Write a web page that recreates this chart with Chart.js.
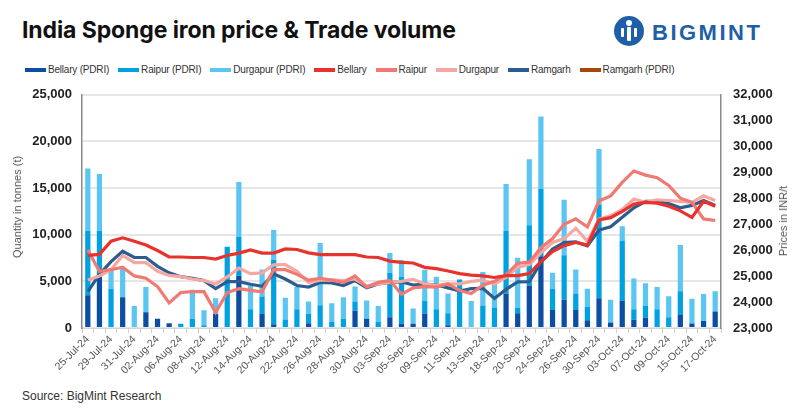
<!DOCTYPE html>
<html>
<head>
<meta charset="utf-8">
<script src="https://cdn.jsdelivr.net/npm/chart.js@4.4.1/dist/chart.umd.min.js"></script>
<style>
  body { margin: 0; background: #fff; font-family: "Liberation Sans", Arial, sans-serif; }
  #page { position: relative; width: 793px; height: 409px; overflow: hidden; }
  #title { position: absolute; left: 22px; top: 16px; font: bold 23px Inter, "Liberation Sans", sans-serif; color: #111; letter-spacing: -0.1px; }
  #logo { position: absolute; left: 612px; top: 13px; }
  #legend { position: absolute; left: 25px; top: 64px; display: flex; font: 10px "Liberation Sans", Arial, sans-serif; letter-spacing: -0.2px; color: #333; }
  #legend .item { display: flex; align-items: center; margin-right: 9px; }
  #legend .sw { width: 21px; height: 4px; margin-right: 2px; }
  #wrap { position: absolute; left: 0; top: 75px; width: 793px; height: 305px; }
  .axt { position: absolute; font-size: 11px; color: #555; white-space: nowrap; transform: translate(-50%, -50%) rotate(-90deg); }
  #source { position: absolute; left: 22px; top: 389px; font-size: 12px; color: #333; }
</style>
</head>
<body>
<div id="page">
  <div id="title">India Sponge iron price &amp; Trade volume</div>
  <svg id="logo" width="175" height="36" viewBox="0 0 175 36">
    <circle cx="17" cy="18" r="15" fill="#1f5fa8"/>
    <circle cx="17" cy="10" r="3" fill="#fff"/>
    <rect x="15" y="14" width="4" height="14" rx="1" fill="#fff"/>
    <rect x="9" y="15" width="3" height="9" rx="1" fill="#fff"/>
    <rect x="22" y="15" width="3" height="9" rx="1" fill="#fff"/>
    <text x="40" y="27" font-family="Liberation Sans, Arial" font-weight="bold" font-size="22" fill="#1f5fa8" letter-spacing="2.5">BIGMINT</text>
  </svg>
  <div id="legend"></div>
  <div id="wrap"><canvas id="chart"></canvas></div>
  <div class="axt" style="left:17px; top:207px;">Quantity in tonnes (t)</div>
  <div class="axt" style="left:783px; top:221px;">Prices in INR/t</div>
  <div id="source">Source: BigMint Research</div>
</div>
<script>
const dates = ["25-Jul-24","26-Jul-24","29-Jul-24","30-Jul-24","31-Jul-24","01-Aug-24","02-Aug-24","05-Aug-24","06-Aug-24","07-Aug-24",
  "08-Aug-24","09-Aug-24","12-Aug-24","13-Aug-24","14-Aug-24","16-Aug-24","20-Aug-24","21-Aug-24","22-Aug-24","23-Aug-24",
  "26-Aug-24","27-Aug-24","28-Aug-24","29-Aug-24","30-Aug-24","02-Sep-24","03-Sep-24","04-Sep-24","05-Sep-24","06-Sep-24",
  "09-Sep-24","10-Sep-24","11-Sep-24","12-Sep-24","13-Sep-24","17-Sep-24","18-Sep-24","19-Sep-24","20-Sep-24","23-Sep-24",
  "24-Sep-24","25-Sep-24","26-Sep-24","27-Sep-24","30-Sep-24","01-Oct-24","03-Oct-24","04-Oct-24","07-Oct-24","08-Oct-24",
  "09-Oct-24","14-Oct-24","15-Oct-24","16-Oct-24","17-Oct-24"];

// volumes (t)
const bellaryVol = [3500,5500,0,3300,0,1700,1000,500,0,0,0,1500,0,5600,0,1500,400,0,0,500,0,0,0,1850,1000,0,1150,480,450,1550,0,300,0,0,0,0,3700,1570,4560,7700,1940,3030,1940,820,3200,580,2960,890,1090,0,0,1400,480,750,1770];
const raipurVol = [6900,4900,4200,0,0,0,0,0,450,1000,300,0,8700,4150,2000,1870,6900,900,2000,1000,2450,650,1000,1000,0,650,4750,5000,0,1350,2000,1270,5200,0,2400,2200,6700,610,6460,7200,2280,4760,1770,1430,10030,0,6360,1120,1260,2000,1150,2550,0,0,0];
const durgapurVol = [6700,6100,2000,3100,2350,2700,0,0,0,3100,1600,1700,0,5900,2550,2900,3200,2350,2400,1350,6650,2000,2300,1600,1950,1700,2150,1800,1650,3350,3500,2140,0,2900,3600,2700,5040,5340,7070,7770,1700,5950,2550,1970,5960,2450,1600,3300,2450,2400,2250,4960,2650,2900,2180];

// prices (INR/t)
const bellaryPrice = [25800,25840,26350,26480,26350,26200,25990,25740,25740,25720,25720,25660,25800,25890,26010,25890,25890,26050,26030,25900,25830,25830,25830,25830,25740,25720,25580,25530,25510,25340,25290,25200,25100,25040,25010,24950,25020,25020,25100,25560,25950,26180,26300,26200,27170,27260,27500,27780,27850,27820,27700,27520,27270,27890,27700];
const raipurPrice = [26010,25190,25250,25350,25010,24920,24600,23970,24370,24400,24400,23600,24370,24520,24450,24400,25250,25250,25070,24850,24920,24850,24760,25010,24580,24760,24830,24300,24550,24600,24580,24700,24450,24330,24650,24800,25050,25500,25540,26100,26450,27000,27210,26900,27900,28100,28620,29060,28900,28800,28500,28010,27850,27210,27150];
const durgapurPrice = [24850,25010,25250,25800,25520,25520,25190,25030,24980,24890,24830,24700,24970,25310,25100,25130,25440,25450,25190,24760,24850,24860,24830,24890,24620,24700,24760,24800,24880,24700,24650,24700,24700,24800,24850,24700,24950,25350,25450,25900,26300,26450,26850,26350,27200,27330,27580,27980,27850,27950,27920,27890,27850,28100,27920];
const ramgarhPrice = [24400,25070,25560,25960,25720,25720,25380,25130,24980,24920,24830,24520,24790,24790,24690,24610,25090,24890,24640,24580,24760,24740,24640,24830,24550,24700,24760,24780,24660,24690,24660,24550,24430,24520,24530,24140,24490,24780,24790,25530,26050,26300,26320,26170,26780,26910,27270,27640,27890,27890,27800,27640,27730,27920,27730];
const ramgarhPdriPrice = [];

const volTicks = { min: 0, max: 25000, step: 5000 };
const priceTicks = { min: 23000, max: 32000, step: 1000 };

const bar = (label, data, color) => ({
  type: "bar", label, data, backgroundColor: color, yAxisID: "y", stack: "vol", order: 10,
  barPercentage: 0.5, categoryPercentage: 0.9
});
const line = (label, data, color) => ({
  type: "line", label, data, borderColor: color, backgroundColor: color, yAxisID: "y1",
  borderWidth: 3.2, pointRadius: 0, tension: 0, order: 1
});

const datasets = [
  bar("Bellary (PDRI)", bellaryVol, "#0b4ea2"),
  bar("Raipur (PDRI)", raipurVol, "#00a1e0"),
  bar("Durgapur (PDRI)", durgapurVol, "#5cc6f2"),
  line("Bellary", bellaryPrice, "#e8332c"),
  line("Raipur", raipurPrice, "#f07a72"),
  line("Durgapur", durgapurPrice, "#f5a8a2"),
  line("Ramgarh", ramgarhPrice, "#2d5d90"),
  line("Ramgarh (PDRI)", ramgarhPdriPrice, "#a5470f")
];

// HTML legend
const legend = document.getElementById("legend");
datasets.forEach(d => {
  const item = document.createElement("div");
  item.className = "item";
  const sw = document.createElement("span");
  sw.className = "sw";
  sw.style.background = d.type === "bar" ? d.backgroundColor : d.borderColor;
  const t = document.createElement("span");
  t.textContent = d.label;
  item.appendChild(sw); item.appendChild(t);
  legend.appendChild(item);
});

const tickFont = { family: "'Liberation Sans', Arial, sans-serif", size: 13, weight: "bold" };

new Chart(document.getElementById("chart"), {
  data: { labels: dates, datasets },
  options: {
    responsive: true,
    maintainAspectRatio: false,
    animation: false,
    layout: { padding: { top: 8, left: 0, right: 0, bottom: 0 } },
    plugins: { legend: { display: false }, tooltip: { enabled: false } },
    scales: {
      x: {
        stacked: true,
        afterFit: s => { s.height = 52; },
        grid: { display: true, drawOnChartArea: false, drawTicks: true, tickLength: 5, color: "#cfcfcf", offset: true },
        border: { color: "#d5d5d5" },
        ticks: {
          autoSkip: false, minRotation: 45, maxRotation: 45, padding: 0,
          color: "#555", font: { family: "'Liberation Sans', Arial, sans-serif", size: 10.5 },
          callback: (v, i) => (i % 2 === 0 ? dates[i] : "")
        }
      },
      y: {
        stacked: true, position: "left",
        min: volTicks.min, max: volTicks.max,
        afterFit: s => { s.width = 82; },
        grid: { color: "#e6e6e6", lineWidth: 2, drawTicks: false },
        border: { color: "#8a8a8a", width: 1.5 },
        ticks: { stepSize: volTicks.step, padding: 10, color: "#222", font: tickFont, callback: v => v.toLocaleString("en-US") }
      },
      y1: {
        position: "right",
        min: priceTicks.min, max: priceTicks.max,
        afterFit: s => { s.width = 72; },
        grid: { drawOnChartArea: false, drawTicks: false },
        border: { color: "#8a8a8a", width: 1.5 },
        ticks: { stepSize: priceTicks.step, padding: 12, color: "#222", font: tickFont, callback: v => v.toLocaleString("en-US") }
      }
    }
  }
});
</script>
</body>
</html>
